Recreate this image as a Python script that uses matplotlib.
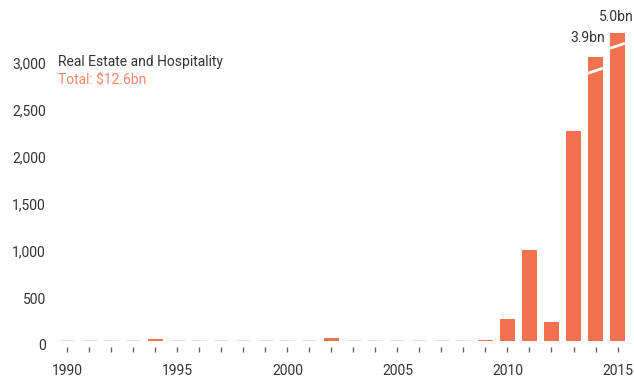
import matplotlib
matplotlib.use("Agg")
import matplotlib.pyplot as plt
from matplotlib.transforms import ScaledTranslation

plt.rcParams['font.family'] = ['Roboto', 'DejaVu Sans']

# ---- data ----
years = list(range(1990, 2016))
values = [0, 0, 0, 0, 18, 0, 0, 0, 0, 0, 0, 0, 25, 0, 0, 0, 0, 0, 0, 10,
          230, 965, 200, 2230, 3900, 5000]  # US$ m
# broken bars: shown truncated
broken_years = [2014, 2015]
broken_shown = [3020, 3270]
broken_cut = [2870, 3135]
broken_labels = ["3.9bn", "5.0bn"]
yticks = [0, 500, 1000, 1500, 2000, 2500, 3000]
ytick_labels = ["0", "500", "1,000", "1,500", "2,000", "2,500", "3,000"]
xticks = [1990, 1995, 2000, 2005, 2010, 2015]
title = "Real Estate and Hospitality"
subtitle = "Total: $12.6bn"

BAR = '#F2714F'
PALE = '#FAD3C8'
TXT = '#333333'

W, H = 634, 381
fig = plt.figure(figsize=(W / 100, H / 100), dpi=100)
left_px, right_px, bot_px, top_px = 55, 630, 340.5, 20
ax = fig.add_axes([left_px / W, 1 - bot_px / H, (right_px - left_px) / W, (bot_px - top_px) / H])

bw = 0.68
shown = []
for y, v in zip(years, values):
    if y in broken_years:
        shown.append(broken_shown[broken_years.index(y)])
    else:
        shown.append(v)

nz_years = [y for y, v in zip(years, values) if v > 0]
nz_shown = [s for y, v, s in zip(years, values, shown) if v > 0]
z_years = [y for y, v in zip(years, values) if v == 0]

ax.bar(nz_years, nz_shown, width=bw, color=BAR, linewidth=0, zorder=2)
ax.hlines([0] * len(z_years), [y - bw / 2 for y in z_years], [y + bw / 2 for y in z_years],
          color=PALE, linewidth=1.2, zorder=1)

# break marks
d = 27
for y, c in zip(broken_years, broken_cut):
    ax.plot([y - bw / 2, y + bw / 2], [c - d, c + d], color='white', linewidth=2, zorder=3,
            solid_capstyle='butt')

# value labels above broken bars
offsets = [(-7.5, 12), (-1, 9)]
for y, s, lab, off in zip(broken_years, broken_shown, broken_labels, offsets):
    ax.annotate(lab, (y, s), xytext=(off[0] * 0.72, off[1] * 0.72), textcoords='offset points',
                ha='center', va='bottom', fontsize=10, color=TXT)

ax.set_xlim(1990 - (67.5 - left_px) / 22, 1990 + (right_px - 67.5) / 22)
ax.set_ylim(0, (bot_px - top_px) / 0.094)

for s in ax.spines.values():
    s.set_visible(False)
ax.spines['bottom'].set_position(('outward', 6 * 0.72))

ax.set_xticks(xticks)
ax.set_xticks(years, minor=True)
ax.tick_params(axis='x', which='both', length=5 * 0.72, width=1, color='#666666',
               labelcolor=TXT, labelsize=10, pad=9)
ax.set_yticks(yticks)
ax.set_yticklabels(ytick_labels)
ax.tick_params(axis='y', length=0, pad=9 * 0.72, labelcolor=TXT, labelsize=10)
for lab in ax.get_yticklabels():
    lab.set_transform(lab.get_transform() + ScaledTranslation(0, -4.5 / 100, fig.dpi_scale_trans))

fig.text(58 / W, 1 - 62 / H, title, ha='left', va='center', fontsize=10, color=TXT)
fig.text(58 / W, 1 - 81 / H, subtitle, ha='left', va='center', fontsize=10, color='#F4866A')

fig.savefig('out.png', dpi=100)
